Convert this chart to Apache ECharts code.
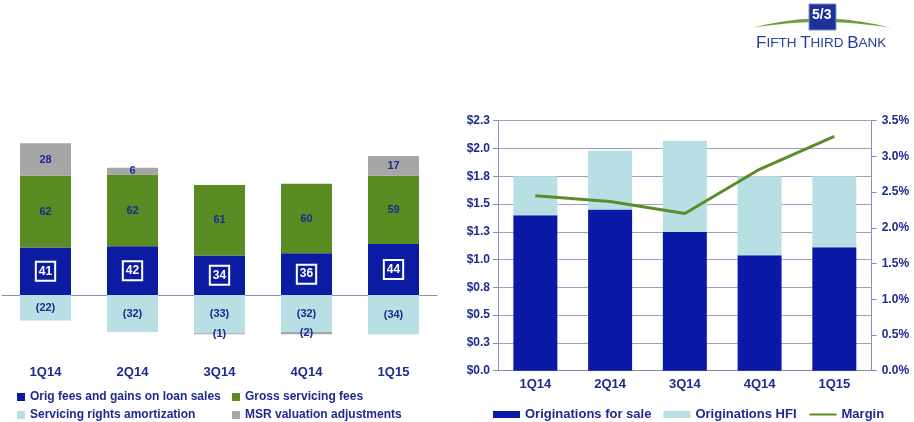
<!DOCTYPE html>
<html>
<head>
<meta charset="utf-8">
<script src="https://cdn.jsdelivr.net/npm/echarts@6/dist/echarts.min.js"></script>
<style>
html, body { margin: 0; padding: 0; background: #fff; }
#chart { width: 914px; height: 422px; }
</style>
</head>
<body>
<div id="chart"></div>
<script>
// data
var quarters = ['1Q14', '2Q14', '3Q14', '4Q14', '1Q15'];

// left chart: mortgage banking net revenue components ($M)
var origFees = [41, 42, 34, 36, 44];
var grossServicing = [62, 62, 61, 60, 59];
var servicingAmort = [-22, -32, -33, -32, -34];
var msrAdj = [28, 6, -1, -2, 17];

// right chart: originations ($B) and margin (%)
var origForSale = [1.40, 1.45, 1.25, 1.04, 1.11];
var origHFI = [0.35, 0.53, 0.82, 0.71, 0.64];
var margin = [2.45, 2.37, 2.20, 2.82, 3.28];

var dollarTicks = { min: 0, max: 2.25, interval: 0.25 };
var pctTicks = { min: 0, max: 3.5, interval: 0.5 };

var font = 'Liberation Sans, Arial, sans-serif';
var navy = '#1c2b8f';
var axisGray = '#8c8cb4';

var myChart = echarts.init(document.getElementById('chart'));

function paren(p) {
	var v = p.value;
	return v < 0 ? '(' + Math.abs(v) + ')' : String(v);
}

// crescent swoosh for the logo (two quadratic curves)
function swoosh(x0, x1, yEnd, yTop, yInner) {
	var pts = [], i, t, cx = (x0 + x1) / 2;
	for (i = 0; i <= 20; i++) {
		t = i / 20;
		pts.push([(1 - t) * (1 - t) * x0 + 2 * t * (1 - t) * cx + t * t * x1,
			(1 - t) * (1 - t) * yEnd + 2 * t * (1 - t) * yTop + t * t * yEnd]);
	}
	for (i = 20; i >= 0; i--) {
		t = i / 20;
		pts.push([(1 - t) * (1 - t) * x0 + 2 * t * (1 - t) * cx + t * t * x1,
			(1 - t) * (1 - t) * yEnd + 2 * t * (1 - t) * yInner + t * t * yEnd]);
	}
	return pts;
}

var labelStyle = {
	show: true,
	position: 'inside',
	color: navy,
	fontFamily: font,
	fontWeight: 'bold',
	fontSize: 11,
	formatter: paren
};

var legendText = { color: navy, fontFamily: font, fontWeight: 'bold', fontSize: 12 };

function smallLegend(name, left, top) {
	return { data: [name], left: left, top: top, icon: 'rect', itemWidth: 8, itemHeight: 8, textStyle: legendText };
}

var option = {
	animation: false,
	textStyle: { fontFamily: font },
	grid: [
		{ left: 2, top: 132.9, width: 435, height: 208.4 },
		{ left: 498, top: 120.7, width: 373.7, height: 250 }
	],
	xAxis: [
		{
			gridIndex: 0,
			type: 'category',
			data: quarters,
			position: 'bottom',
			axisLine: { show: false, onZero: false },
			axisTick: { show: false },
			axisLabel: { margin: 25, color: navy, fontWeight: 'bold', fontSize: 13 }
		},
		{
			gridIndex: 0,
			type: 'category',
			data: quarters,
			position: 'bottom',
			axisLine: { onZero: true, onZeroAxisIndex: 0, lineStyle: { color: axisGray, width: 1 } },
			axisTick: { length: 4, lineStyle: { color: axisGray } },
			axisLabel: { show: false }
		},
		{
			gridIndex: 0,
			type: 'category',
			data: quarters,
			position: 'top',
			axisLine: { show: false, onZero: true, onZeroAxisIndex: 0 },
			axisTick: { length: 4, lineStyle: { color: axisGray } },
			axisLabel: { show: false }
		},
		{
			gridIndex: 1,
			type: 'category',
			data: quarters,
			axisLine: { lineStyle: { color: axisGray } },
			axisTick: { length: 5, lineStyle: { color: axisGray } },
			axisLabel: { margin: 7, color: navy, fontWeight: 'bold', fontSize: 13 }
		}
	],
	yAxis: [
		{
			gridIndex: 0,
			type: 'value',
			min: -40,
			max: 140,
			show: false,
			splitLine: { show: false }
		},
		{
			gridIndex: 1,
			type: 'value',
			position: 'left',
			min: dollarTicks.min,
			max: dollarTicks.max,
			interval: dollarTicks.interval,
			axisLine: { show: true, lineStyle: { color: axisGray } },
			axisTick: { show: true, length: 5, lineStyle: { color: axisGray } },
			splitLine: { lineStyle: { color: '#a0a0c4' } },
			axisLabel: {
				margin: 8,
				color: navy,
				fontWeight: 'bold',
				fontSize: 12,
				formatter: function (v) { return '$' + v.toFixed(1); }
			}
		},
		{
			gridIndex: 1,
			type: 'value',
			position: 'right',
			min: pctTicks.min,
			max: pctTicks.max,
			interval: pctTicks.interval,
			axisLine: { show: true, lineStyle: { color: axisGray } },
			axisTick: { show: true, length: 5, lineStyle: { color: axisGray } },
			splitLine: { show: false },
			axisLabel: {
				margin: 10,
				color: navy,
				fontWeight: 'bold',
				fontSize: 12,
				formatter: function (v) { return v.toFixed(1) + '%'; }
			}
		}
	],
	legend: [
		smallLegend('Orig fees and gains on loan sales', 12, 386),
		smallLegend('Gross servicing fees', 227, 386),
		smallLegend('Servicing rights amortization', 12, 404),
		smallLegend('MSR valuation adjustments', 227, 404),
		{
			data: [
				{ name: 'Originations for sale', icon: 'rect' },
				{ name: 'Originations HFI', icon: 'rect' },
				{ name: 'Margin', itemStyle: { opacity: 0 } }
			],
			left: 488,
			top: 403,
			itemWidth: 27,
			itemHeight: 7,
			itemGap: 12,
			textStyle: { color: navy, fontFamily: font, fontWeight: 'bold', fontSize: 13 }
		}
	],
	series: [
		{
			name: 'Orig fees and gains on loan sales',
			type: 'bar',
			xAxisIndex: 0,
			yAxisIndex: 0,
			stack: 'rev',
			barWidth: 51,
			itemStyle: { color: '#0b1ca2' },
			label: {
				show: true,
				position: 'inside',
				color: '#fff',
				fontFamily: font,
				fontWeight: 'bold',
				fontSize: 12,
				borderColor: '#fff',
				borderWidth: 2,
				padding: [4, 3, 3, 3]
			},
			data: origFees
		},
		{
			name: 'Gross servicing fees',
			type: 'bar',
			xAxisIndex: 0,
			yAxisIndex: 0,
			stack: 'rev',
			barWidth: 51,
			itemStyle: { color: '#5b8c23' },
			label: labelStyle,
			data: grossServicing
		},
		{
			name: 'Servicing rights amortization',
			type: 'bar',
			xAxisIndex: 0,
			yAxisIndex: 0,
			stack: 'rev',
			barWidth: 51,
			itemStyle: { color: '#b8dfe3' },
			label: labelStyle,
			data: servicingAmort
		},
		{
			name: 'MSR valuation adjustments',
			type: 'bar',
			xAxisIndex: 0,
			yAxisIndex: 0,
			stack: 'rev',
			barWidth: 51,
			itemStyle: { color: '#a6a6a6' },
			label: labelStyle,
			data: msrAdj
		},
		{
			name: 'Originations for sale',
			type: 'bar',
			xAxisIndex: 3,
			yAxisIndex: 1,
			stack: 'orig',
			barWidth: 44,
			itemStyle: { color: '#0b1aa6' },
			data: origForSale
		},
		{
			name: 'Originations HFI',
			type: 'bar',
			xAxisIndex: 3,
			yAxisIndex: 1,
			stack: 'orig',
			barWidth: 44,
			itemStyle: { color: '#b8dfe3' },
			data: origHFI
		},
		{
			name: 'Margin',
			type: 'line',
			xAxisIndex: 3,
			yAxisIndex: 2,
			symbol: 'none',
			lineStyle: { color: '#5b8c2a', width: 3 },
			itemStyle: { color: '#5b8c2a' },
			z: 5,
			data: margin
		}
	],
	graphic: [
		{
			type: 'polygon',
			shape: { points: swoosh(752, 891, 28, 9, 16) },
			style: { fill: '#6f9e3c' }
		},
		{
			type: 'rect',
			shape: { x: 809, y: 4, width: 27, height: 26 },
			style: { fill: '#1e3399', stroke: '#7f8fc8', lineWidth: 1 }
		},
		{
			type: 'text',
			left: 812,
			top: 8,
			style: { text: '5/3', fill: '#fff', font: 'bold 14px ' + font }
		},
		{
			type: 'text',
			left: 756,
			top: 35,
			style: {
				text: '{b|F}{s|IFTH }{b|T}{s|HIRD }{b|B}{s|ANK}',
				rich: {
					b: { fill: '#27409a', fontFamily: font, fontSize: 17 },
					s: { fill: '#27409a', fontFamily: font, fontSize: 13.5 }
				}
			}
		}
	]
};

myChart.setOption(option);
</script>
</body>
</html>
